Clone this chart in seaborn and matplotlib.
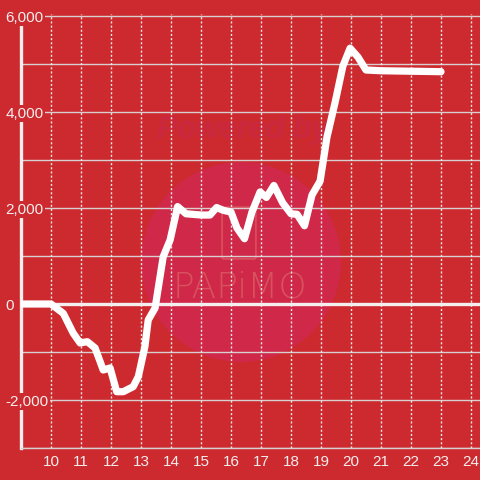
#!/usr/bin/env python3
# -*- coding: utf-8 -*-

import matplotlib
matplotlib.use("Agg")
import matplotlib.pyplot as plt
import pandas as pd
import seaborn as sns
from matplotlib.patches import Ellipse, FancyBboxPatch

# Datos (hora, balance)
hours = [9, 10, 10.41, 10.74, 10.97, 11.21, 11.47, 11.74, 11.97, 12.19, 12.41,
         12.74, 12.91, 13.13, 13.24, 13.47, 13.74, 13.97, 14.22, 14.5, 15.0,
         15.3, 15.52, 15.75, 16.0, 16.2, 16.45, 16.7, 16.97, 17.18, 17.43,
         17.72, 18.0, 18.2, 18.45, 18.7, 18.97, 19.2, 19.47, 19.73, 19.97,
         20.23, 20.5, 21.0, 21.5, 22.0, 22.5, 23.0]
values = [0, 0, -195, -607, -812, -785, -917, -1375, -1333, -1827, -1827,
          -1722, -1514, -889, -333, -83, 985, 1333, 2030, 1880, 1854,
          1854, 2010, 1950, 1917, 1583, 1360, 1917, 2335, 2220, 2470,
          2110, 1880, 1870, 1630, 2271, 2560, 3479, 4200, 4958, 5330,
          5146, 4875, 4860, 4855, 4850, 4845, 4840]

x_ticks = list(range(10, 25))
y_ticks = [-2000, 0, 2000, 4000, 6000]
y_labels = ["-2,000", "0", "2,000", "4,000", "6,000"]

BG = "#cc2a2f"
FG = "#f4eeee"


def main():
    sns.set_style("dark")
    plt.rcParams["font.family"] = ["Liberation Sans", "DejaVu Sans"]

    df = pd.DataFrame({"hora": hours, "balance": values})

    fig = plt.figure(figsize=(4.8, 4.8), dpi=100, facecolor=BG)
    ax = fig.add_axes([21 / 480, 32 / 480, 1 - 21 / 480, 434 / 480])
    ax.set_facecolor("none")

    # marca de agua
    fig.add_artist(Ellipse((241 / 480, 1 - 262 / 480), 200 / 480, 200 / 480,
                           transform=fig.transFigure, facecolor="#cf2848",
                           edgecolor="none", zorder=-2))
    fig.text(243 / 480, 1 - 130 / 480, "Powered by", transform=fig.transFigure,
             ha="center", va="center", fontsize=22, fontweight="bold",
             fontstyle="italic", color="#c9283f", zorder=-1)
    fig.text(240 / 480, 1 - 288 / 480, "PAPiMO", transform=fig.transFigure,
             ha="center", va="center", fontsize=26, color="#d9505e",
             family=["DejaVu Sans"], fontweight="light", zorder=-1)
    fig.add_artist(FancyBboxPatch((224 / 480, 1 - 257 / 480), 30 / 480, 48 / 480,
                                  boxstyle="round,pad=0.004",
                                  transform=fig.transFigure, facecolor="none",
                                  edgecolor="#d9505e", linewidth=1.2, zorder=-1))

    sns.lineplot(data=df, x="hora", y="balance", ax=ax, color="white",
                 linewidth=5.2, sort=False, zorder=5)

    ax.set_xlim(9, 9 + 459 / 30)
    ax.set_ylim(-3000, 6042)

    # rejilla
    for v in range(-3000, 7000, 1000):
        if v == 0:
            ax.axhline(v, color=FG, linewidth=2.4, zorder=1.5)
        else:
            ax.axhline(v, color="#d8d0d0", linewidth=1, zorder=1)
    for h in x_ticks:
        ax.axvline(h, color="#f2e8e8", linewidth=1, linestyle=(0, (1.5, 1.5)), zorder=1)
    ax.grid(False)
    ax.set_axisbelow(False)

    ax.set_xticks(x_ticks)
    ax.set_xticklabels([str(t) for t in x_ticks])
    ax.set_yticks(y_ticks)
    ax.set_yticklabels(y_labels)
    ax.tick_params(axis="x", length=0, pad=5, labelsize=11, labelcolor=FG)
    ax.tick_params(axis="y", length=0, pad=11, labelsize=11, labelcolor=FG)
    for lab in ax.get_yticklabels():
        lab.set_horizontalalignment("left")
        lab.set_bbox(dict(facecolor=BG, edgecolor="none", pad=1))

    ax.set_xlabel("")
    ax.set_ylabel("")
    for s in ["top", "right"]:
        ax.spines[s].set_visible(False)
    ax.spines["left"].set_color(FG)
    ax.spines["left"].set_linewidth(2.4)
    ax.spines["left"].set_zorder(2)
    ax.spines["bottom"].set_color("#d8d0d0")
    ax.spines["bottom"].set_linewidth(1)

    fig.savefig("out.png", dpi=100, facecolor=BG)


if __name__ == "__main__":
    main()
